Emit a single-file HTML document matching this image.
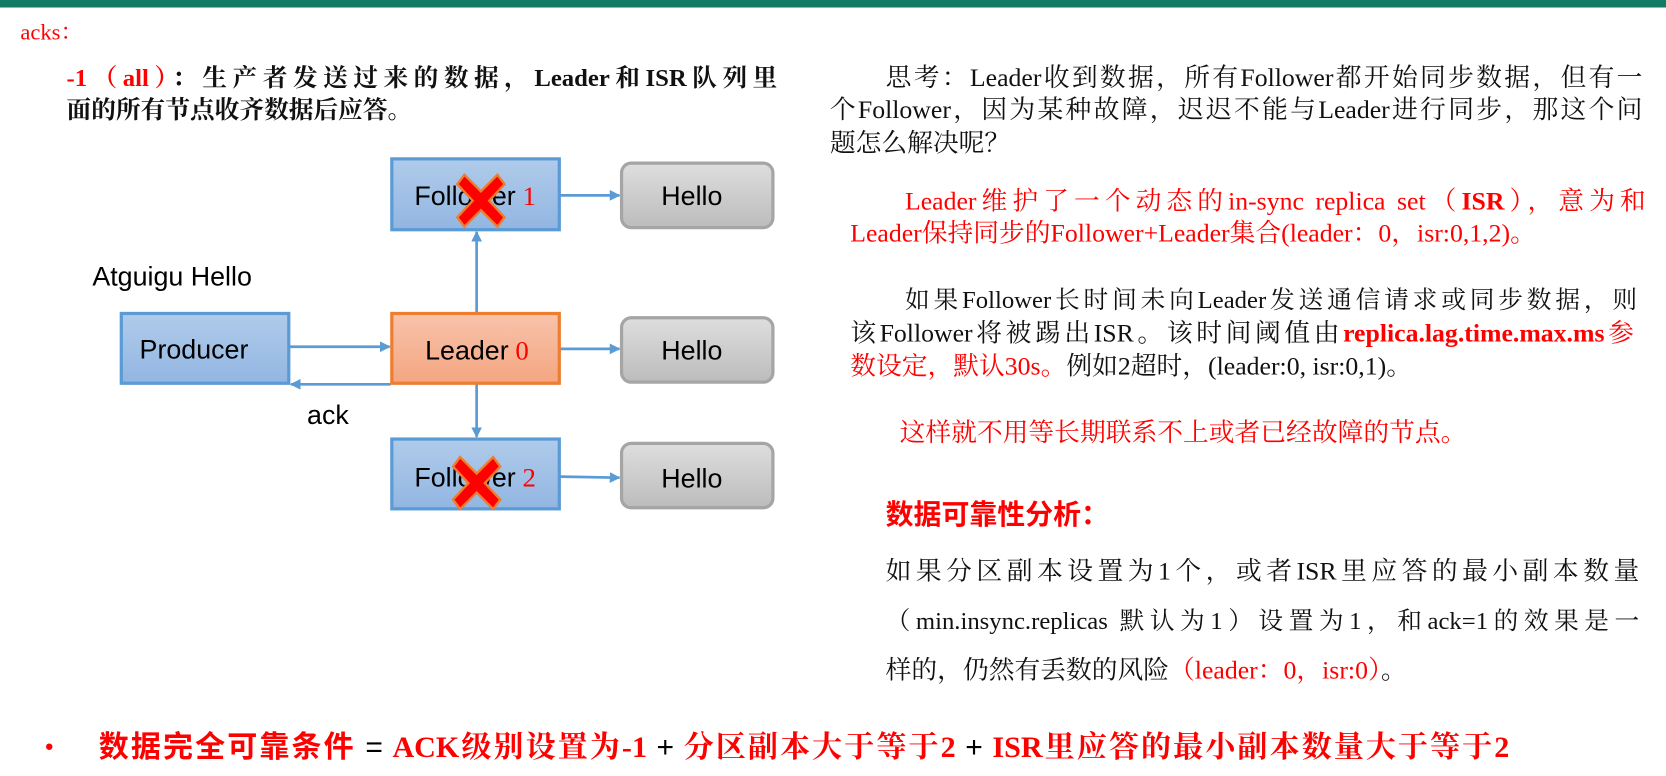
<!DOCTYPE html>
<html><head><meta charset="utf-8"><style>
body{margin:0;width:1666px;height:776px;background:#fff;position:relative;overflow:hidden;font-family:"Liberation Serif","Noto Serif CJK SC",serif;}
#w{position:absolute;left:0;top:0;width:1552px;height:723px;transform:scale(1.0735);transform-origin:0 0;}
.l{position:absolute;height:30px;line-height:30px;font-size:24px;color:#111;text-align:justify;text-align-last:justify;overflow:visible;}
.n{text-align:left;text-align-last:left;white-space:nowrap;}
.r{color:#f00;}
.b{font-weight:bold;}
.s{font-family:"Liberation Sans","Noto Sans CJK SC",sans-serif;}
</style></head><body><div id="w">
<div style="position:absolute;left:0;top:0;width:1552px;height:7px;background:#127b65"></div>
<div class="l n r" style="left:19px;top:15px;font-size:21px">acks：</div>
<div class="l b" style="left:62px;top:58px;width:662px;font-size:23px"><span class="r">-1（all）</span>：生产者发送过来的数据，Leader和ISR队列里</div>
<div class="l n b" style="left:62px;top:88px;font-size:23px">面的所有节点收齐数据后应答。</div>

<svg style="position:absolute;left:0;top:0" width="760" height="500">
<defs>
<linearGradient id="gb" x1="0" y1="0" x2="0" y2="1"><stop offset="0" stop-color="#b0cbea"/><stop offset="1" stop-color="#92b6e2"/></linearGradient>
<linearGradient id="go" x1="0" y1="0" x2="0" y2="1"><stop offset="0" stop-color="#f8c3ab"/><stop offset="1" stop-color="#f4a681"/></linearGradient>
<linearGradient id="gg" x1="0" y1="0" x2="0" y2="1"><stop offset="0" stop-color="#dedede"/><stop offset="1" stop-color="#bcbcbc"/></linearGradient>
<marker id="a" markerWidth="10" markerHeight="10" refX="9" refY="5" orient="auto" markerUnits="userSpaceOnUse"><path d="M0,0L10,5L0,10z" fill="#5b9bd5"/></marker>
</defs>
<g transform="translate(-4,-2)">
<g stroke="#5b9bd5" stroke-width="2.5" fill="none">
<line x1="526" y1="184" x2="581" y2="184" marker-end="url(#a)"/>
<line x1="448" y1="293" x2="448" y2="218" marker-end="url(#a)"/>
<line x1="274" y1="325" x2="367" y2="325" marker-end="url(#a)"/>
<line x1="368" y1="360" x2="275" y2="360" marker-end="url(#a)"/>
<line x1="526" y1="327" x2="581" y2="327" marker-end="url(#a)"/>
<line x1="448" y1="360" x2="448" y2="409" marker-end="url(#a)"/>
<line x1="526" y1="446" x2="581" y2="447" marker-end="url(#a)"/>
</g>
<rect x="369" y="150" width="156" height="66" fill="url(#gb)" stroke="#5b9bd5" stroke-width="3"/>
<rect x="117" y="294" width="156" height="65" fill="url(#gb)" stroke="#5b9bd5" stroke-width="3"/>
<rect x="369" y="294" width="156" height="65" fill="url(#go)" stroke="#ed7d31" stroke-width="3"/>
<rect x="369" y="411" width="156" height="65" fill="url(#gb)" stroke="#5b9bd5" stroke-width="3"/>
<rect x="583" y="154" width="141" height="60" rx="9" fill="url(#gg)" stroke="#a5a5a5" stroke-width="3"/>
<rect x="583" y="298" width="141" height="60" rx="9" fill="url(#gg)" stroke="#a5a5a5" stroke-width="3"/>
<rect x="583" y="415" width="141" height="60" rx="9" fill="url(#gg)" stroke="#a5a5a5" stroke-width="3"/>
<g font-family="Liberation Sans, sans-serif" font-size="25" fill="#000">
<text x="90" y="268">Atguigu Hello</text>
<text x="134" y="336">Producer</text>
<text x="290" y="397">ack</text>
<text x="390" y="193">Follower<tspan font-family="Liberation Serif, serif" fill="#f00"> 1</tspan></text>
<text x="400" y="337">Leader<tspan font-family="Liberation Serif, serif" fill="#f00"> 0</tspan></text>
<text x="390" y="455">Follower<tspan font-family="Liberation Serif, serif" fill="#f00"> 2</tspan></text>
<text x="620" y="193">Hello</text>
<text x="620" y="337">Hello</text>
<text x="620" y="456">Hello</text>
</g>
<g fill="#f00" stroke="#ed7d31" stroke-width="2">
<path transform="translate(452,189) scale(1.1)" d="M-14,-22 L0,-8 L14,-22 L20,-14 L7,0 L20,14 L14,22 L0,8 L-14,22 L-20,14 L-7,0 L-20,-14z"/>
<path transform="translate(448,452) scale(1.1)" d="M-14,-22 L0,-8 L14,-22 L20,-14 L7,0 L20,14 L14,22 L0,8 L-14,22 L-20,14 L-7,0 L-20,-14z"/>
</g>
</g>
</svg>

<div class="l" style="left:825px;top:58px;width:705px">思考：Leader收到数据，所有Follower都开始同步数据，但有一</div>
<div class="l" style="left:773px;top:88px;width:757px">个Follower，因为某种故障，迟迟不能与Leader进行同步，那这个问</div>
<div class="l n" style="left:773px;top:119px">题怎么解决呢？</div>
<div class="l r" style="left:843px;top:173px;width:690px">Leader维护了一个动态的in-sync replica set（<b>ISR</b>），意为和</div>
<div class="l n r" style="left:792px;top:203px">Leader保持同步的Follower+Leader集合(leader：0，isr:0,1,2)。</div>
<div class="l" style="left:843px;top:265px;width:682px;font-size:23px">如果Follower长时间未向Leader发送通信请求或同步数据，则</div>
<div class="l" style="left:792px;top:296px;width:730px">该Follower将被踢出ISR。该时间阈值由<b class="r">replica.lag.time.max.ms</b><span class="r">参</span></div>
<div class="l n" style="left:792px;top:327px"><span class="r">数设定，默认30s。</span>例如2超时，(leader:0, isr:0,1)。</div>
<div class="l n r" style="left:838px;top:389px">这样就不用等长期联系不上或者已经故障的节点。</div>
<div class="l n r b s" style="left:825px;top:464px;font-size:26px">数据可靠性分析：</div>
<div class="l" style="left:825px;top:518px;width:702px;font-size:24px">如果分区副本设置为1个，或者ISR里应答的最小副本数量</div>
<div class="l" style="left:825px;top:564px;width:702px;font-size:23px">（min.insync.replicas 默认为1）设置为1，和ack=1的效果是一</div>
<div class="l n" style="left:825px;top:610px;font-size:24px">样的，仍然有丢数的风险<span class="r">（leader：0，isr:0）</span>。</div>

<div class="l n r s" style="left:42px;top:681px;font-size:22px">•</div>
<div class="l r b" style="left:92px;top:679px;width:1314px;font-size:28px;height:34px;line-height:34px"><span class="s">数据完全可靠条件</span> <span class="s" style="color:#000;font-weight:normal">=</span> ACK级别设置为-1 <span class="s" style="color:#000;font-weight:normal">+</span> 分区副本大于等于2 <span class="s" style="color:#000;font-weight:normal">+</span> ISR里应答的最小副本数量大于等于2</div>
</div></body></html>
